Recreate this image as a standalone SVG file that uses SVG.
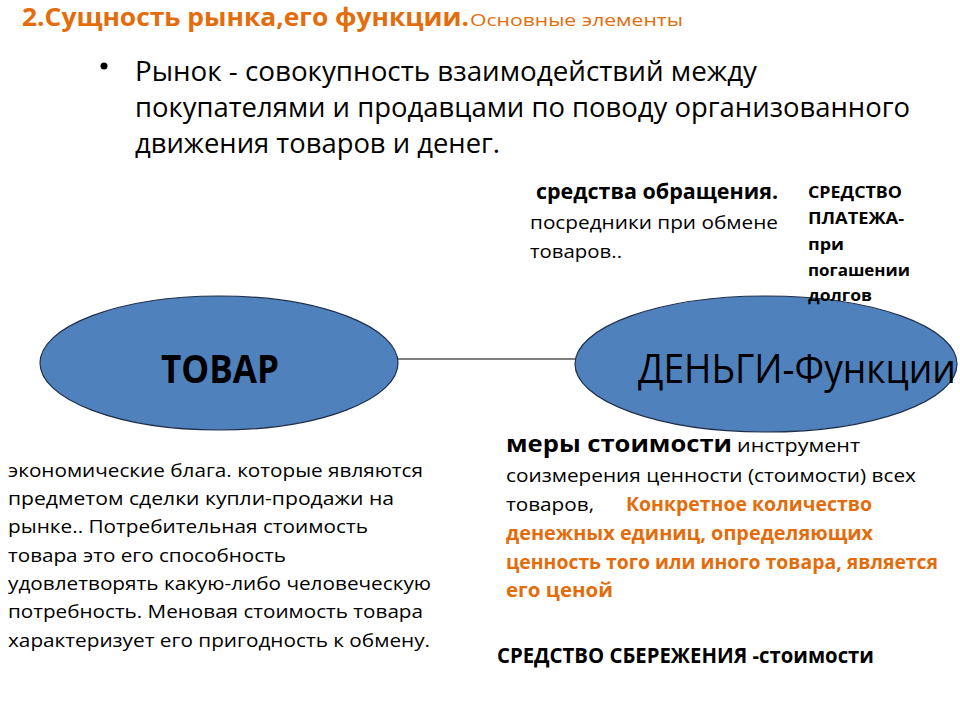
<svg xmlns="http://www.w3.org/2000/svg" width="960" height="720" viewBox="0 0 960 720">
<style>
text{font-family:"Open Sans","Liberation Sans",sans-serif;fill:#000}
.t{fill:#E46C0A;font-weight:bold}
.b{font-weight:bold}
.node{fill:#4F81BD;stroke:#1F2F4A;stroke-width:1.2}
.o{fill:#E46C0A;font-weight:bold}
</style>
<rect width="960" height="720" fill="#fff"/>
<text x="22" y="26" class="t" font-size="25" textLength="447" lengthAdjust="spacingAndGlyphs">2.Сущность рынка,его функции.</text>
<text x="470" y="26" font-size="17" style="fill:#E46C0A" textLength="213" lengthAdjust="spacingAndGlyphs">Основные элементы</text>
<circle cx="104" cy="66" r="3.5" fill="#000"/>
<g font-size="28">
<text x="135" y="81" textLength="622" lengthAdjust="spacingAndGlyphs">Рынок - совокупность взаимодействий между</text>
<text x="135" y="117" textLength="775" lengthAdjust="spacingAndGlyphs">покупателями и продавцами по поводу организованного</text>
<text x="135" y="153" textLength="365" lengthAdjust="spacingAndGlyphs">движения товаров и денег.</text>
</g>
<text x="536" y="199" class="b" font-size="21" textLength="242" lengthAdjust="spacingAndGlyphs">средства обращения.</text>
<text x="530" y="229" font-size="19" textLength="248" lengthAdjust="spacingAndGlyphs">посредники при обмене</text>
<text x="530" y="258" font-size="19" textLength="92" lengthAdjust="spacingAndGlyphs">товаров..</text>
<g class="b" font-size="16">
<text x="808" y="198" class="b" textLength="94" lengthAdjust="spacingAndGlyphs">СРЕДСТВО</text>
<text x="808" y="224" class="b" textLength="96" lengthAdjust="spacingAndGlyphs">ПЛАТЕЖА-</text>
<text x="808" y="250" class="b" textLength="36" lengthAdjust="spacingAndGlyphs">при</text>
<text x="808" y="276" class="b" textLength="102" lengthAdjust="spacingAndGlyphs">погашении</text>
</g>
<g id="connectors">
<line x1="398" y1="359" x2="577" y2="359" stroke="#555" stroke-width="1.5"/>
</g>
<g id="tovar">
<ellipse class="node" cx="219" cy="363" rx="179" ry="67"/>
<text x="220" y="383" text-anchor="middle" class="b" font-size="40" textLength="118" lengthAdjust="spacingAndGlyphs">ТОВАР</text>
</g>
<g id="dengi">
<ellipse class="node" cx="766" cy="364" rx="191" ry="68"/>
<text x="638" y="383" font-size="41" textLength="318" lengthAdjust="spacingAndGlyphs">ДЕНЬГИ-Функции</text>
</g>
<text x="808" y="301" class="b" font-size="16" textLength="64" lengthAdjust="spacingAndGlyphs">долгов</text>
<g font-size="19">
<text x="8" y="477" textLength="415" lengthAdjust="spacingAndGlyphs">экономические блага. которые являются</text>
<text x="8" y="505" textLength="386" lengthAdjust="spacingAndGlyphs">предметом сделки купли-продажи на</text>
<text x="8" y="533" textLength="360" lengthAdjust="spacingAndGlyphs">рынке.. Потребительная стоимость</text>
<text x="8" y="562" textLength="278" lengthAdjust="spacingAndGlyphs">товара это его способность</text>
<text x="8" y="590" textLength="423" lengthAdjust="spacingAndGlyphs">удовлетворять какую-либо человеческую</text>
<text x="8" y="618" textLength="415" lengthAdjust="spacingAndGlyphs">потребность. Меновая стоимость товара</text>
<text x="8" y="647" textLength="422" lengthAdjust="spacingAndGlyphs">характеризует его пригодность к обмену.</text>
</g>
<text x="506" y="452" class="b" font-size="24" textLength="226" lengthAdjust="spacingAndGlyphs">меры стоимости</text>
<text x="737" y="452" font-size="19" textLength="123" lengthAdjust="spacingAndGlyphs">инструмент</text>
<text x="506" y="482" font-size="19" textLength="410" lengthAdjust="spacingAndGlyphs">соизмерения ценности (стоимости) всех</text>
<text x="506" y="511" font-size="19" textLength="88" lengthAdjust="spacingAndGlyphs">товаров,</text>
<g font-size="19">
<text x="626" y="511" class="o" textLength="246" lengthAdjust="spacingAndGlyphs">Конкретное количество</text>
<text x="506" y="540" class="o" textLength="367" lengthAdjust="spacingAndGlyphs">денежных единиц, определяющих</text>
<text x="506" y="569" class="o" textLength="432" lengthAdjust="spacingAndGlyphs">ценность того или иного товара, является</text>
<text x="506" y="597" class="o" textLength="107" lengthAdjust="spacingAndGlyphs">его  ценой</text>
</g>
<text x="497" y="663" class="b" font-size="21" textLength="377" lengthAdjust="spacingAndGlyphs">СРЕДСТВО  СБЕРЕЖЕНИЯ -стоимости</text>
</svg>
